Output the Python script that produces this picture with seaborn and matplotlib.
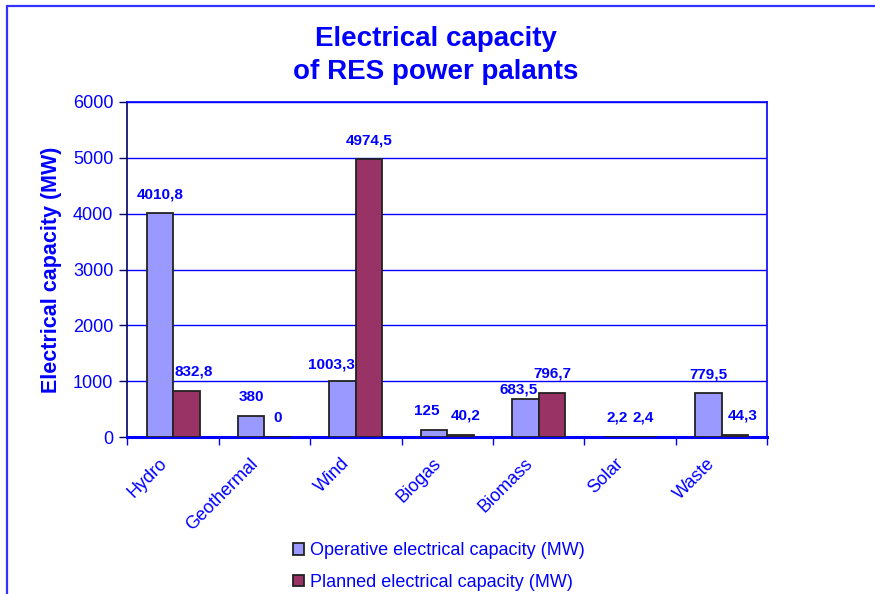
import matplotlib
matplotlib.use("Agg")
import matplotlib.pyplot as plt
from matplotlib.lines import Line2D
from matplotlib.ticker import FixedLocator, NullFormatter
from matplotlib.transforms import ScaledTranslation
import seaborn as sns
import pandas as pd

# ---- data ----
categories = ["Hydro", "Geothermal", "Wind", "Biogas", "Biomass", "Solar", "Waste"]
operative = [4010.8, 380, 1003.3, 125, 683.5, 2.2, 779.5]
planned = [832.8, 0, 4974.5, 40.2, 796.7, 2.4, 44.3]
series_names = ["Operative electrical capacity (MW)", "Planned electrical capacity (MW)"]
y_ticks = [0, 1000, 2000, 3000, 4000, 5000, 6000]

BLUE = "#0000FF"
colors = ["#9999FF", "#993366"]

df = pd.DataFrame({
    "category": categories * 2,
    "value": operative + planned,
    "series": [series_names[0]] * len(categories) + [series_names[1]] * len(categories),
})

sns.set_style("white")
plt.rcParams["font.family"] = ["Liberation Sans", "DejaVu Sans"]

fig = plt.figure(figsize=(8.75, 5.94), dpi=100)
ax = fig.add_axes([127.3 / 875, 1 - 437 / 594, (767.3 - 127.3) / 875, (437 - 102) / 594])

sns.barplot(data=df, x="category", y="value", hue="series", order=categories,
            hue_order=series_names, palette=colors, width=0.58, gap=0,
            edgecolor="#222222", linewidth=1.3, saturation=1, legend=True, ax=ax,
            errorbar=None, zorder=3)

ax.set_xlim(-0.5, len(categories) - 0.5)
ax.set_ylim(0, 6000)
ax.set_yticks(y_ticks)
ax.set_yticklabels([str(t) for t in y_ticks], color=BLUE, fontsize=13)
ax.yaxis.grid(True, color=BLUE, linewidth=1.0, zorder=0)
ax.set_axisbelow(True)

# x ticks: labels at centers, marks at boundaries
ax.set_xticks(range(len(categories)))
ax.set_xticklabels(categories, rotation=45, ha="right", rotation_mode="anchor",
                   color=BLUE, fontsize=13)
ax.tick_params(axis="x", which="major", length=0, pad=8)
shift = ScaledTranslation(-15 / 100, -7 / 100, fig.dpi_scale_trans)
for lbl in ax.get_xticklabels():
    lbl.set_transform(lbl.get_transform() + shift)
ax.xaxis.set_minor_locator(FixedLocator([i - 0.5 for i in range(len(categories) + 1)]))
ax.xaxis.set_minor_formatter(NullFormatter())
ax.tick_params(axis="x", which="minor", length=6, width=1, color=BLUE, direction="out", bottom=True)
ax.tick_params(axis="y", length=6, width=1, color="#000066", direction="out", left=True, pad=4)

for s in ["top", "right"]:
    ax.spines[s].set_visible(True)
    ax.spines[s].set_color(BLUE)
    ax.spines[s].set_linewidth(1.2)
ax.spines["left"].set_color("#000066")
ax.spines["left"].set_linewidth(1.2)
ax.spines["bottom"].set_color(BLUE)
ax.spines["bottom"].set_linewidth(2.2)

ax.set_xlabel("")
ax.set_ylabel("Electrical capacity (MW)", color=BLUE, fontsize=15.5, fontweight="bold", labelpad=8)

# data labels
nudges = {(0, 1): (0, 0), (0, 2): (-11, -3), (0, 3): (-7, 0), (0, 4): (-7, -10),
          (1, 0): (7, 0), (1, 3): (5, 0), (1, 6): (8, 0)}
for si, cont in enumerate(ax.containers):
    for ci, bar in enumerate(cont):
        h = bar.get_height()
        xc = bar.get_x() + bar.get_width() / 2
        txt = f"{h:g}".replace(".", ",")
        dx, dy = nudges.get((si, ci), (0, 0))
        ax.annotate(txt, (xc, h), xytext=((dx) * 0.72, (19 + dy) * 0.72),
                    textcoords="offset points", ha="center", va="center",
                    color=BLUE, fontsize=11, fontweight="bold", zorder=5)

# legend
handles, labels = ax.get_legend_handles_labels()
if ax.get_legend() is not None:
    ax.get_legend().remove()
leg = fig.legend(handles, labels, loc="upper left", bbox_to_anchor=(286 / 875, 1 - 535 / 594),
                 frameon=False, fontsize=13, handlelength=0.6, handleheight=0.6,
                 handletextpad=0.35, labelspacing=0.8, borderaxespad=0)
for t in leg.get_texts():
    t.set_color(BLUE)

# title
fig.text(436 / 875, 1 - 39 / 594, "Electrical capacity", ha="center", va="center",
         color=BLUE, fontsize=20, fontweight="bold")
fig.text(436 / 875, 1 - 72 / 594, "of RES power palants", ha="center", va="center",
         color=BLUE, fontsize=20, fontweight="bold")

# outer frame lines
fig.add_artist(Line2D([7.3 / 875, 7.3 / 875], [0, 1 - 6 / 594], transform=fig.transFigure,
                      color="#3333FF", linewidth=1.6))
fig.add_artist(Line2D([6.5 / 875, 1], [1 - 6 / 594, 1 - 6 / 594], transform=fig.transFigure,
                      color="#3333FF", linewidth=1.6))

fig.savefig("out.png", dpi=100)
